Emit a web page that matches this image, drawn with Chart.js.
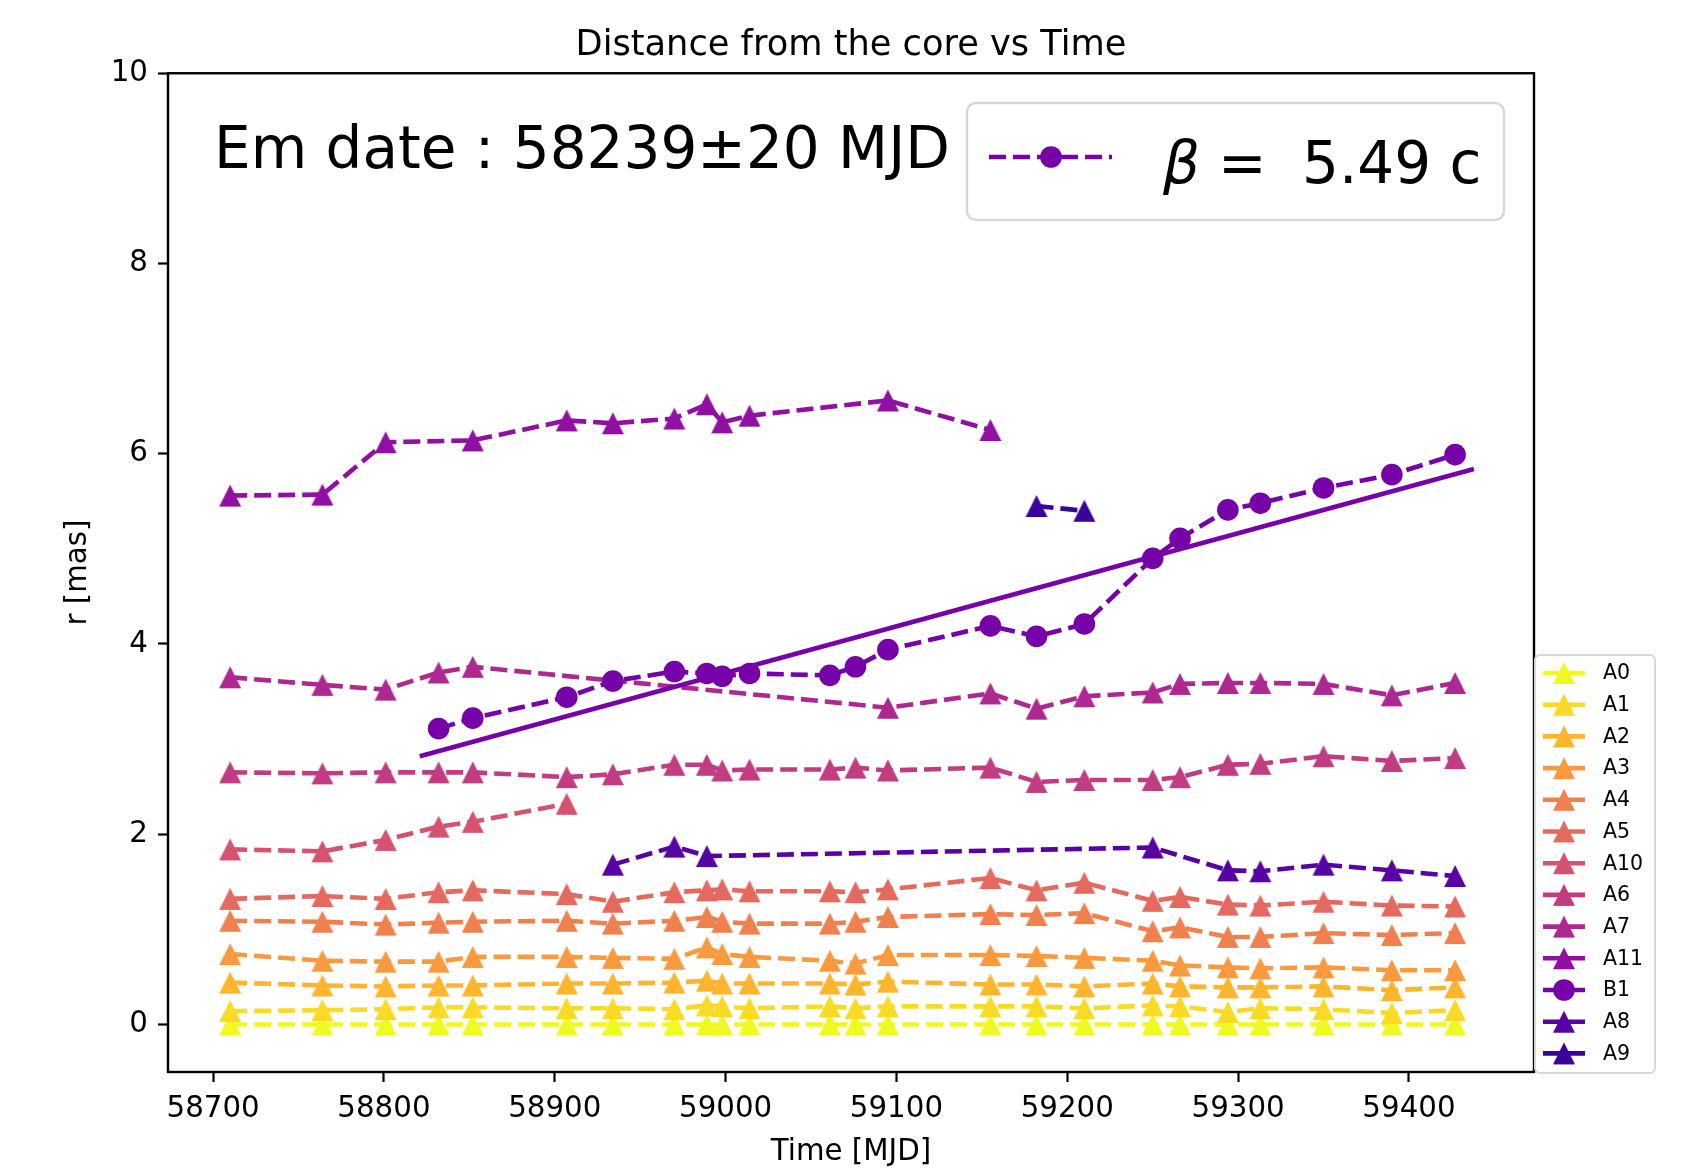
<!DOCTYPE html>
<html>
<head>
<meta charset="utf-8">
<title>Distance from the core vs Time</title>
<script src="https://cdn.jsdelivr.net/npm/chart.js@4.4.1/dist/chart.umd.min.js"></script>
<style>
    html, body { margin: 0; padding: 0; background: #ffffff; }
    #wrap { width: 1684px; height: 1176px; }
</style>
</head>
<body>
<div id="wrap"><canvas id="distChart" width="1684" height="1176"></canvas></div>
<script>
// observing epochs (MJD)
const epochs = [58710, 58764, 58801, 58832, 58852, 58907, 58934, 58970, 58989, 58998, 59014, 59061,
                59076, 59095, 59155, 59182, 59210, 59250, 59266, 59294, 59313, 59350, 59390, 59427];

// distance from the core r [mas] per component, null = not detected at that epoch
const rA0 = [0, 0, 0, 0, 0, 0, 0, 0, 0, 0, 0, 0, 0, 0, 0, 0, 0, 0, 0, 0, 0, 0, 0, 0];
const rA1 = [0.14, 0.15, 0.16, 0.18, 0.18, 0.17, 0.17, 0.16, 0.20, 0.19, 0.17, 0.19,
             0.17, 0.19, 0.19, 0.19, 0.17, 0.20, 0.19, 0.13, 0.17, 0.16, 0.12, 0.15];
const rA2 = [0.44, 0.41, 0.40, 0.41, 0.41, 0.43, 0.43, 0.44, 0.46, 0.43, 0.43, 0.43,
             0.42, 0.45, 0.42, 0.42, 0.40, 0.43, 0.40, 0.39, 0.39, 0.40, 0.36, 0.39];
const rA3 = [0.74, 0.67, 0.66, 0.66, 0.71, 0.71, 0.70, 0.69, 0.81, 0.74, 0.71, 0.67,
             0.64, 0.73, 0.73, 0.72, 0.70, 0.67, 0.62, 0.60, 0.59, 0.60, 0.57, 0.57];
const rA4 = [1.09, 1.08, 1.05, 1.07, 1.08, 1.09, 1.06, 1.09, 1.13, 1.08, 1.06, 1.06,
             1.08, 1.13, 1.16, 1.15, 1.17, 0.98, 1.02, 0.92, 0.92, 0.96, 0.94, 0.96];
const rA5 = [1.32, 1.35, 1.32, 1.39, 1.41, 1.37, 1.29, 1.39, 1.41, 1.42, 1.40, 1.40,
             1.39, 1.42, 1.54, 1.41, 1.49, 1.30, 1.34, 1.26, 1.25, 1.29, 1.25, 1.24];
const rA10 = [1.84, 1.82, 1.94, 2.08, 2.13, 2.32, null, null, null, null, null, null,
              null, null, null, null, null, null, null, null, null, null, null, null];
const rA6 = [2.65, 2.64, 2.65, 2.65, 2.65, 2.60, 2.63, 2.73, 2.73, 2.67, 2.68, 2.68,
             2.70, 2.67, 2.70, 2.55, 2.57, 2.57, 2.60, 2.73, 2.74, 2.82, 2.77, 2.80];
const rA7 = [3.65, 3.57, 3.52, 3.70, 3.76, null, null, null, null, null, null, null,
             null, 3.33, 3.48, 3.32, 3.45, 3.49, 3.58, 3.59, 3.59, 3.58, 3.46, 3.59];
const rA11 = [5.56, 5.57, 6.12, null, 6.14, 6.35, 6.32, 6.37, 6.52, 6.33, 6.40, null,
              null, 6.56, 6.25, null, null, null, null, null, null, null, null, null];
const rB1 = [null, null, null, 3.11, 3.22, 3.44, 3.61, 3.71, 3.69, 3.66, 3.69, 3.67,
             3.76, 3.94, 4.19, 4.08, 4.21, 4.90, 5.11, 5.41, 5.48, 5.64, 5.78, 5.99];
const rA8 = [null, null, null, null, null, null, 1.68, 1.87, 1.77, null, null, null,
             null, null, null, null, null, 1.86, null, 1.62, 1.61, 1.68, 1.62, 1.56];
const rA9 = [null, null, null, null, null, null, null, null, null, null, null, null,
             null, null, null, 5.45, 5.40, null, null, null, null, null, null, null];

const componentNames = ['A0', 'A1', 'A2', 'A3', 'A4', 'A5', 'A10', 'A6', 'A7', 'A11', 'B1', 'A8', 'A9'];
const componentValues = [rA0, rA1, rA2, rA3, rA4, rA5, rA10, rA6, rA7, rA11, rB1, rA8, rA9];

// linear fit of B1 (end points)
const fitMjd = [58821, 59438];
const fitR = [2.82, 5.84];

// tick labels
const xTicks = [58700, 58800, 58900, 59000, 59100, 59200, 59300, 59400];
const yTicks = [0, 2, 4, 6, 8, 10];

// plasma colormap, from yellow (A0) to dark blue (A9)
const plasmaColors = ['#f0f921', '#f9da24', '#fdb52e', '#f99a3e', '#f0804e', '#e4695e', '#d5536f',
                      '#c23c81', '#ae2892', '#920fa3', '#7701a8', '#5602a4', '#3a049a'];

const FONT = 'DejaVu Sans';
const LINE_W = 4.6;
const DASH = [17, 7];
const TRI = 22;   // triangle size (px)
const DOT_R = 10.8;

Chart.defaults.font.family = FONT;
Chart.defaults.color = '#000';

// matplotlib style '^' marker: bbox centred on the point
function makeTriangle(color) {
    const c = document.createElement('canvas');
    c.width = TRI + 2;
    c.height = TRI + 2;
    const g = c.getContext('2d');
    g.fillStyle = color;
    g.beginPath();
    g.moveTo(c.width / 2, 1);
    g.lineTo(1, TRI + 1);
    g.lineTo(TRI + 1, TRI + 1);
    g.closePath();
    g.fill();
    return c;
}

const markers = componentNames.map((name, i) => name === 'B1' ? 'circle' : makeTriangle(plasmaColors[i]));

const datasets = componentNames.map((name, i) => ({
    label: name,
    data: epochs.map((t, k) => ({ x: t, y: componentValues[i][k] })),
    borderColor: plasmaColors[i],
    backgroundColor: plasmaColors[i],
    borderWidth: LINE_W,
    borderDash: DASH,
    pointStyle: markers[i],
    pointRadius: name === 'B1' ? DOT_R : TRI / 2,
    pointBorderWidth: 0,
    spanGaps: true,
    tension: 0,
    order: -i
}));

datasets.push({
    label: 'fit',
    data: fitMjd.map((t, k) => ({ x: t, y: fitR[k] })),
    borderColor: plasmaColors[10],
    borderWidth: LINE_W,
    pointRadius: 0,
    order: -9.5
});

// frame, annotation text and the two legends
const decorPlugin = {
    id: 'decor',
    afterDraw(chart) {
        const ctx = chart.ctx;
        const area = chart.chartArea;
        ctx.save();

        // axes frame
        ctx.strokeStyle = '#000';
        ctx.lineWidth = 2.4;
        ctx.strokeRect(area.left, area.top, area.right - area.left, area.bottom - area.top);

        // emission date text
        ctx.fillStyle = '#000';
        ctx.font = '58px "' + FONT + '"';
        ctx.textBaseline = 'alphabetic';
        ctx.textAlign = 'left';
        ctx.fillText('Em date : 58239\u00b120 MJD', 214, 168);

        // beta legend box
        ctx.beginPath();
        ctx.roundRect(967, 103, 537, 117, 9);
        ctx.fillStyle = 'rgba(255,255,255,0.8)';
        ctx.fill();
        ctx.strokeStyle = '#d6d6d6';
        ctx.lineWidth = 2.4;
        ctx.stroke();

        ctx.strokeStyle = plasmaColors[10];
        ctx.lineWidth = LINE_W;
        ctx.setLineDash(DASH);
        ctx.beginPath();
        ctx.moveTo(989, 157);
        ctx.lineTo(1112, 157);
        ctx.stroke();
        ctx.setLineDash([]);
        ctx.fillStyle = plasmaColors[10];
        ctx.beginPath();
        ctx.arc(1051, 157, DOT_R, 0, Math.PI * 2);
        ctx.fill();

        ctx.fillStyle = '#000';
        ctx.font = 'italic 58px "' + FONT + '"';
        ctx.fillText('\u03b2', 1163, 183);
        ctx.font = '58px "' + FONT + '"';
        ctx.fillText('=', 1218, 183);
        ctx.fillText('5.49 c', 1302, 183);

        // component legend (outside, lower right)
        ctx.beginPath();
        ctx.roundRect(1535, 655, 120, 418, 5);
        ctx.fillStyle = 'rgba(255,255,255,0.8)';
        ctx.fill();
        ctx.strokeStyle = '#d6d6d6';
        ctx.lineWidth = 2;
        ctx.stroke();

        ctx.font = '20.5px "' + FONT + '"';
        ctx.textBaseline = 'middle';
        componentNames.forEach((name, i) => {
            const y = 673 + i * 31.7;
            ctx.strokeStyle = plasmaColors[i];
            ctx.lineWidth = LINE_W;
            ctx.beginPath();
            ctx.moveTo(1543, y);
            ctx.lineTo(1585, y);
            ctx.stroke();
            if (name === 'B1') {
                ctx.fillStyle = plasmaColors[i];
                ctx.beginPath();
                ctx.arc(1564, y, DOT_R, 0, Math.PI * 2);
                ctx.fill();
            } else {
                const m = markers[i];
                ctx.drawImage(m, 1564 - m.width / 2, y - m.height / 2);
            }
            ctx.fillStyle = '#000';
            ctx.fillText(name, 1603, y + 1);
        });

        ctx.restore();
    }
};

const axisFont = { family: FONT, size: 29.3 };

const distChart = new Chart(document.getElementById('distChart'), {
    type: 'line',
    data: { datasets: datasets },
    options: {
        responsive: false,
        animation: false,
        devicePixelRatio: 1,
        layout: { padding: { left: 0, right: 150, top: 0, bottom: 0 } },
        plugins: {
            legend: { display: false },
            tooltip: { enabled: false },
            title: {
                display: true,
                text: 'Distance from the core vs Time',
                color: '#000',
                fullSize: false,
                font: { family: FONT, size: 35.2, weight: 'normal' },
                padding: { top: 25, bottom: 6 }
            }
        },
        scales: {
            x: {
                type: 'linear',
                min: 58673.6,
                max: 59473.2,
                bounds: 'data',
                afterBuildTicks: s => { s.ticks = xTicks.map(v => ({ value: v })); },
                afterFit: s => { s.height = 104; },
                border: { display: false },
                grid: { drawOnChartArea: false, drawTicks: true, tickLength: 10, tickWidth: 2.2, tickColor: '#000', color: '#000' },
                ticks: { color: '#000', font: axisFont, padding: 10, maxRotation: 0, autoSkip: false, callback: v => String(v) },
                title: { display: true, text: 'Time [MJD]', color: '#000', font: axisFont, padding: { top: 0, bottom: 6 } }
            },
            y: {
                type: 'linear',
                min: -0.5,
                max: 10,
                bounds: 'data',
                afterBuildTicks: s => { s.ticks = yTicks.map(v => ({ value: v })); },
                afterFit: s => { s.width = 168; },
                border: { display: false },
                grid: { drawOnChartArea: false, drawTicks: true, tickLength: 10, tickWidth: 2.2, tickColor: '#000', color: '#000' },
                ticks: { color: '#000', font: axisFont, padding: 10, autoSkip: false, callback: v => String(v) },
                title: { display: true, text: 'r [mas]', color: '#000', font: axisFont, padding: { top: 61, bottom: 0 } }
            }
        }
    },
    plugins: [decorPlugin]
});
</script>
</body>
</html>
